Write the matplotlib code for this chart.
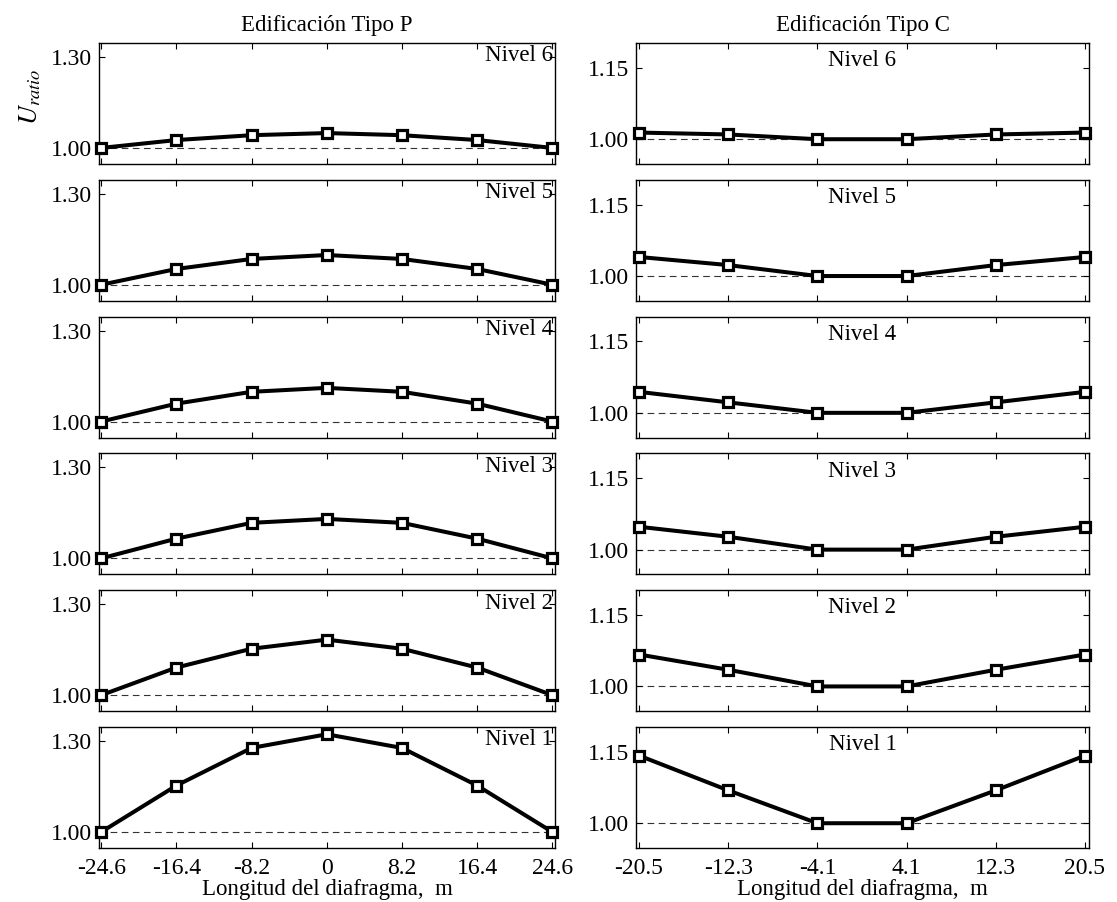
import numpy as np
import matplotlib
matplotlib.use('Agg')
import matplotlib.pyplot as plt

plt.rcParams['font.family'] = ['Liberation Serif', 'DejaVu Serif']
plt.rcParams['mathtext.fontset'] = 'stix'

# positions along the diaphragm, m
x_p = [-24.6, -16.4, -8.2, 0, 8.2, 16.4, 24.6]
x_c = [-20.5, -12.3, -4.1, 4.1, 12.3, 20.5]

niveles = ['Nivel 6', 'Nivel 5', 'Nivel 4', 'Nivel 3', 'Nivel 2', 'Nivel 1']

# U_ratio per level, building type P (top level first)
u_p6 = [1.00, 1.026, 1.042, 1.049, 1.042, 1.026, 1.00]
u_p5 = [1.00, 1.052, 1.085, 1.098, 1.085, 1.052, 1.00]
u_p4 = [1.00, 1.059, 1.098, 1.111, 1.098, 1.059, 1.00]
u_p3 = [1.00, 1.065, 1.117, 1.130, 1.117, 1.065, 1.00]
u_p2 = [1.00, 1.091, 1.153, 1.183, 1.153, 1.091, 1.00]
u_p1 = [1.00, 1.153, 1.277, 1.322, 1.277, 1.153, 1.00]

# U_ratio per level, building type C
u_c6 = [1.014, 1.010, 1.00, 1.00, 1.010, 1.014]
u_c5 = [1.040, 1.023, 1.00, 1.00, 1.023, 1.040]
u_c4 = [1.044, 1.022, 1.00, 1.00, 1.022, 1.044]
u_c3 = [1.048, 1.027, 1.00, 1.00, 1.027, 1.048]
u_c2 = [1.067, 1.035, 1.00, 1.00, 1.035, 1.067]
u_c1 = [1.142, 1.069, 1.00, 1.00, 1.069, 1.142]

datos_p = [u_p6, u_p5, u_p4, u_p3, u_p2, u_p1]
datos_c = [u_c6, u_c5, u_c4, u_c3, u_c2, u_c1]

W, H = 1117, 902
fig = plt.figure(figsize=(W/100, H/100), dpi=100)

def caja(x0, x1, top, alto=121):
    return [x0/W, 1 - (top + alto)/H, (x1 - x0)/W, alto/H]

fs = 16.5
fs_tick = 17

def panel(ax, x, y, xlim, ylim, yticks, nombre, centro, abajo):
    ax.axhline(1.0, color='#333333', lw=0.8, ls=(0, (6, 4)), zorder=1)
    ax.plot(x, y, color='black', lw=2.9, marker='s', ms=7.5, mfc='white',
            mec='black', mew=2.3, zorder=3, clip_on=False)
    ax.set_xlim(xlim)
    ax.set_ylim(ylim)
    ax.set_xticks(x)
    ax.set_yticks(yticks)
    ax.set_yticklabels(['%.2f' % v for v in yticks])
    ax.tick_params(direction='in', top=True, right=True, length=4, width=0.8,
                   labelsize=fs_tick)
    ax.tick_params(axis='y', pad=5)
    ax.tick_params(axis='x', pad=7)
    if abajo:
        ax.set_xticklabels(['%g' % v for v in x])
        ax.set_xlabel('Longitud del diafragma,  m', fontsize=fs, labelpad=0)
    else:
        ax.set_xticklabels([])
    for s in ax.spines.values():
        s.set_linewidth(1.0)
    if centro:
        ax.text(0.5, 0.94, nombre, transform=ax.transAxes, ha='center',
                va='top', fontsize=fs)
    else:
        ax.text(0.995, 0.98, nombre, transform=ax.transAxes, ha='right',
                va='top', fontsize=fs)

for i in range(6):
    top = 43 + i*136.8
    ax = fig.add_axes(caja(99, 555, top))
    panel(ax, x_p, datos_p[i], (-24.85, 24.9), (0.947, 1.346), [1.0, 1.3],
          niveles[i], False, i == 5)
    if i == 0:
        ax.set_title('Edificación Tipo P', fontsize=fs, pad=9)
    ax = fig.add_axes(caja(636, 1089, top))
    panel(ax, x_c, datos_c[i], (-20.78, 20.87), (0.948, 1.202), [1.0, 1.15],
          niveles[i], True, i == 5)
    if i == 0:
        ax.set_title('Edificación Tipo C', fontsize=fs, pad=9)

fig.text(30/W, 1 - 97/H, '$U_{ratio}$', rotation=90, ha='center', va='center',
         fontsize=19)

fig.savefig('out.png', dpi=100)
